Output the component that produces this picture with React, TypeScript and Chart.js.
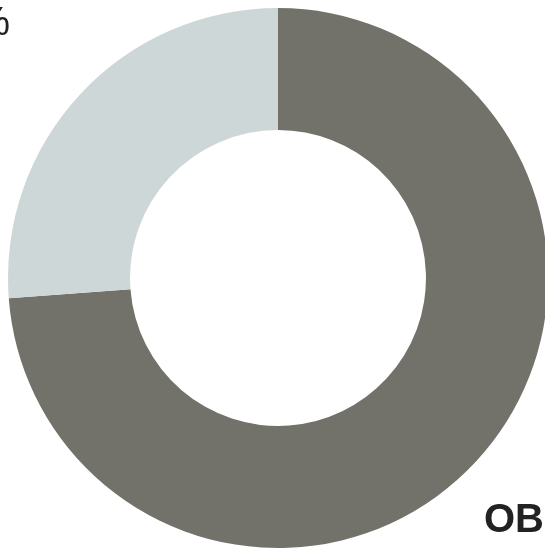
import React, { useEffect, useRef } from "react";
import { Chart, registerables } from "chart.js";

Chart.register(...registerables);

const categories: string[] = ["Dark share", "Light share"];
const values: number[] = [73.8, 26.2];
const sliceColors: string[] = ["#72726a", "#ced7d7"];
const leftLabel = "26%";
const rightLabel = "OB";

export default function App() {
  const canvasRef = useRef<HTMLCanvasElement | null>(null);

  useEffect(() => {
    const prevMargin = document.body.style.margin;
    document.body.style.margin = "0";
    if (!canvasRef.current) return;
    const chart = new Chart(canvasRef.current, {
      type: "doughnut",
      data: {
        labels: categories,
        datasets: [
          {
            data: values,
            backgroundColor: sliceColors,
            borderWidth: 0,
          },
        ],
      },
      options: {
        responsive: false,
        animation: false,
        cutout: "54.8%",
        layout: { padding: 0 },
        plugins: {
          legend: { display: false },
          tooltip: { enabled: false },
          title: { display: false },
        },
      },
    });
    return () => {
      chart.destroy();
      document.body.style.margin = prevMargin;
    };
  }, []);

  return (
    <div
      style={{
        position: "relative",
        width: 545,
        height: 548,
        overflow: "hidden",
        background: "#fff",
      }}
    >
      <style>{`body{margin:0}`}</style>
      <canvas
        ref={canvasRef}
        width={540}
        height={540}
        style={{ position: "absolute", left: 8, top: 8, width: 540, height: 540 }}
      />
      <div
        style={{
          position: "absolute",
          left: -200,
          width: 210,
          top: 1,
          textAlign: "right",
          fontFamily: "'Liberation Sans', Arial, sans-serif",
          fontSize: 40,
          lineHeight: "40px",
          color: "#222",
          whiteSpace: "nowrap",
        }}
      >
        {leftLabel}
      </div>
      <div
        style={{
          position: "absolute",
          left: 484,
          top: 498,
          fontFamily: "'Liberation Sans', Arial, sans-serif",
          fontWeight: "bold",
          fontSize: 40,
          lineHeight: "40px",
          color: "#222",
          whiteSpace: "nowrap",
        }}
      >
        {rightLabel}
      </div>
    </div>
  );
}
